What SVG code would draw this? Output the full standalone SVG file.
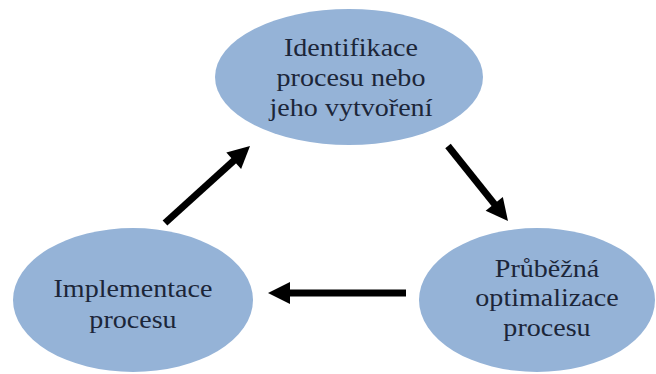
<svg xmlns="http://www.w3.org/2000/svg" width="656" height="374" viewBox="0 0 656 374">
  <style>
    .node { fill: #95b3d7; }
    .label { font-family: "Liberation Serif", "Times New Roman", serif; font-size: 26px; fill: #1c2639; text-anchor: middle; }
    .arrow { stroke: #000; stroke-width: 7; fill: none; marker-end: url(#head); }
  </style>
  <defs>
    <marker id="head" markerUnits="userSpaceOnUse" markerWidth="22" markerHeight="22" refX="2" refY="11" orient="auto" overflow="visible">
      <path d="M0,0 L22,11 L0,22 Z" fill="#000"/>
    </marker>
  </defs>
  <rect width="656" height="374" fill="#fff"/>

  <g id="identifikace">
    <ellipse class="node" cx="349" cy="77" rx="134" ry="68"/>
    <g transform="translate(351,0) scale(1.08,1)">
      <text class="label" x="0" y="56">Identifikace</text>
      <text class="label" x="0" y="86">procesu nebo</text>
      <text class="label" x="0" y="116">jeho vytvoření</text>
    </g>
  </g>

  <g id="optimalizace">
    <ellipse class="node" cx="537" cy="300" rx="118" ry="72"/>
    <g transform="translate(547,0) scale(1.08,1)">
      <text class="label" x="0" y="277">Průběžná</text>
      <text class="label" x="0" y="306">optimalizace</text>
      <text class="label" x="0" y="336">procesu</text>
    </g>
  </g>

  <g id="implementace">
    <ellipse class="node" cx="133" cy="300" rx="120" ry="72"/>
    <g transform="translate(133,0) scale(1.08,1)">
      <text class="label" x="0" y="297">Implementace</text>
      <text class="label" x="0" y="328">procesu</text>
    </g>
  </g>

  <g id="connectors">
    <line class="arrow" x1="448" y1="146" x2="495.5" y2="205.4"/>
    <line class="arrow" x1="406" y1="293" x2="288" y2="293"/>
    <line class="arrow" x1="165" y1="223" x2="235.2" y2="159.4"/>
  </g>
</svg>
